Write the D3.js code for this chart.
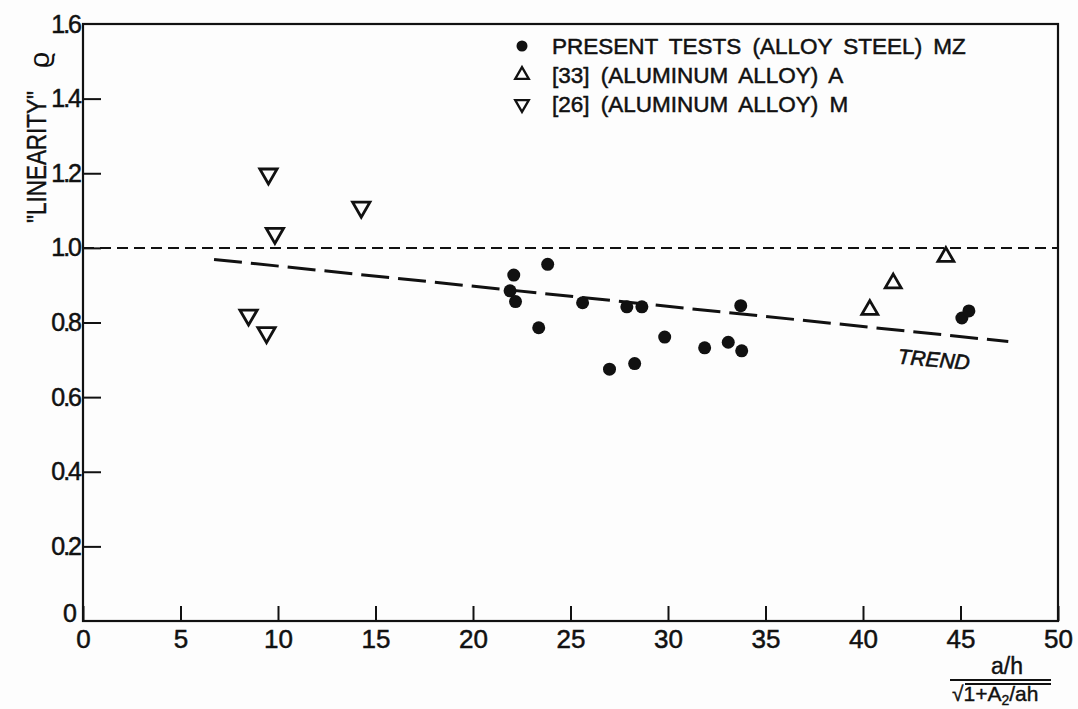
<!DOCTYPE html>
<html>
<head>
<meta charset="utf-8">
<script src="https://cdn.jsdelivr.net/npm/d3@7"></script>
<style>
  html, body { margin: 0; padding: 0; background: #fdfdfd; }
  svg { display: block; }
  text { font-family: "Liberation Sans", Arial, sans-serif; fill: #111; }
</style>
</head>
<body>
<script>
// ---- data ----
const steelX = [22.09, 23.83, 21.90, 22.18, 23.37, 25.62, 27.89, 28.66, 27.00, 28.29, 29.83, 31.88, 33.09, 33.78, 33.73, 45.07, 45.43];
const steelY = [0.927, 0.956, 0.885, 0.856, 0.786, 0.853, 0.842, 0.842, 0.675, 0.690, 0.761, 0.732, 0.747, 0.724, 0.845, 0.812, 0.831];

const alAX = [44.25, 41.55, 40.35];
const alAY = [0.976, 0.905, 0.834];

const alMX = [9.51, 14.27, 9.84, 8.49, 9.41];
const alMY = [1.198, 1.109, 1.039, 0.820, 0.773];

const trendX = [6.72, 47.45];
const trendY = [0.969, 0.749];

const refX = [0, 50];
const refY = [1.0, 1.0];

const xTicks = [0, 5, 10, 15, 20, 25, 30, 35, 40, 45, 50];
const yTicks = [0, 0.2, 0.4, 0.6, 0.8, 1.0, 1.2, 1.4, 1.6];

const legendLabels = ["PRESENT TESTS (ALLOY STEEL)  MZ", "[33] (ALUMINUM ALLOY) A", "[26] (ALUMINUM ALLOY) M"];
const legendSymbols = ["circle", "up", "down"];

// ---- drawing ----
const W = 1078, H = 709;
const svg = d3.select("body").append("svg").attr("width", W).attr("height", H);
svg.append("rect").attr("width", W).attr("height", H).attr("fill", "#fdfdfd");

const x = d3.scaleLinear().domain([0, 50]).range([83, 1058]);
const y = d3.scaleLinear().domain([0, 1.6]).range([621, 24]);

// frame
svg.append("rect")
  .attr("x", x(0)).attr("y", y(1.6))
  .attr("width", x(50) - x(0)).attr("height", y(0) - y(1.6))
  .attr("fill", "none").attr("stroke", "#111").attr("stroke-width", 2.2);

// x axis
const xAxis = d3.axisBottom(x).tickValues(xTicks).tickSizeInner(-15).tickSizeOuter(0).tickPadding(8)
  .tickFormat(d3.format("d"));
const gx = svg.append("g").attr("transform", `translate(0,${y(0)})`).call(xAxis);
gx.select(".domain").remove();
gx.selectAll(".tick line").attr("stroke", "#111").attr("stroke-width", 2);
gx.selectAll(".tick text").attr("font-size", 26).attr("fill", "#111")
  .attr("stroke", "#111").attr("stroke-width", 0.5)
  .style("font-family", '"Liberation Sans", Arial, sans-serif').attr("dy", "0.72em");

// y axis
const yAxis = d3.axisLeft(y).tickValues(yTicks).tickSizeInner(-18).tickSizeOuter(0).tickPadding(3)
  .tickFormat(d => d === 0 ? "0" : d3.format(".1f")(d));
const gy = svg.append("g").attr("transform", `translate(${x(0)},0)`).call(yAxis);
gy.select(".domain").remove();
gy.selectAll(".tick line").attr("stroke", "#111").attr("stroke-width", 2);
gy.selectAll(".tick text").attr("font-size", 25).attr("fill", "#111")
  .attr("letter-spacing", -2)
  .attr("stroke", "#111").attr("stroke-width", 0.5)
  .style("font-family", '"Liberation Sans", Arial, sans-serif');
gy.selectAll(".tick").filter(d => d === 0 || d === 1.6).select("line").remove();
gy.selectAll(".tick").filter(d => d === 0).select("text")
  .attr("transform", "translate(-5,-8)");

// reference line at 1.0
const line = d3.line().x(d => x(d[0])).y(d => y(d[1]));
svg.append("path")
  .datum(d3.zip(refX, refY))
  .attr("d", line)
  .attr("fill", "none").attr("stroke", "#111").attr("stroke-width", 2)
  .attr("stroke-dasharray", "11,6");

// trend line
svg.append("path")
  .datum(d3.zip(trendX, trendY))
  .attr("d", line)
  .attr("fill", "none").attr("stroke", "#111").attr("stroke-width", 3)
  .attr("stroke-dasharray", "28,9");

svg.append("text")
  .attr("transform", `translate(${x(43.6)},${y(0.735) + 20}) rotate(5)`)
  .attr("text-anchor", "middle")
  .attr("font-size", 21).attr("font-style", "italic")
  .attr("stroke", "#111").attr("stroke-width", 0.6)
  .text("TREND");

// symbols
function addTri(xs, ys, rot, size) {
  const sym = d3.symbol().type(d3.symbolTriangle).size(size);
  svg.append("g").selectAll("path")
    .data(d3.zip(xs, ys)).join("path")
    .attr("d", sym)
    .attr("transform", d => `translate(${x(d[0])},${y(d[1])}) rotate(${rot})`)
    .attr("fill", "none").attr("stroke", "#111").attr("stroke-width", 2.8)
    .attr("stroke-linejoin", "miter");
}

svg.append("g").selectAll("circle")
  .data(d3.zip(steelX, steelY)).join("circle")
  .attr("cx", d => x(d[0])).attr("cy", d => y(d[1]))
  .attr("r", 6.5).attr("fill", "#111");

addTri(alAX, alAY, 0, 110);
addTri(alMX, alMY, 180, 130);

// legend
const legY = [46, 75, 104];
const lg = svg.append("g");
legendLabels.forEach((lab, i) => {
  const cy = legY[i], cx = 522;
  if (legendSymbols[i] === "circle") {
    lg.append("circle").attr("cx", cx).attr("cy", cy).attr("r", 5.5).attr("fill", "#111");
  } else {
    lg.append("path").attr("d", d3.symbol().type(d3.symbolTriangle).size(80))
      .attr("transform", `translate(${cx},${cy}) rotate(${legendSymbols[i] === "up" ? 0 : 180})`)
      .attr("fill", "none").attr("stroke", "#111").attr("stroke-width", 2.3);
  }
  lg.append("text").attr("x", 552).attr("y", cy).attr("dy", "0.36em")
    .attr("font-size", 22.5).attr("word-spacing", 5)
    .attr("stroke", "#111").attr("stroke-width", 0.5)
    .text(lab);
});

// y-axis title
svg.append("text")
  .attr("transform", "translate(46,157) rotate(-90)")
  .attr("text-anchor", "middle")
  .attr("font-size", 27)
  .attr("textLength", 132).attr("lengthAdjust", "spacingAndGlyphs")
  .attr("stroke", "#111").attr("stroke-width", 0.4)
  .text("\"LINEARITY\"");
svg.append("text")
  .attr("transform", "translate(49,60) rotate(-90)")
  .attr("text-anchor", "middle")
  .attr("font-size", 28)
  .text("\u03F1");

// x-axis title (fraction)
svg.append("text").attr("x", 1007).attr("y", 674).attr("text-anchor", "middle")
  .attr("font-size", 23).attr("stroke", "#111").attr("stroke-width", 0.4).text("a/h");
svg.append("line").attr("x1", 950).attr("x2", 1051).attr("y1", 680).attr("y2", 680)
  .attr("stroke", "#111").attr("stroke-width", 2);
const den = svg.append("text").attr("x", 952).attr("y", 701).attr("font-size", 21)
  .attr("stroke", "#111").attr("stroke-width", 0.4);
den.append("tspan").text("\u221A");
den.append("tspan").text("1+A");
den.append("tspan").attr("font-size", 14).attr("dy", 4).text("2");
den.append("tspan").attr("dy", -4).text("/ah");
svg.append("line").attr("x1", 965).attr("x2", 1051).attr("y1", 684).attr("y2", 684)
  .attr("stroke", "#111").attr("stroke-width", 1.8);
</script>
</body>
</html>
